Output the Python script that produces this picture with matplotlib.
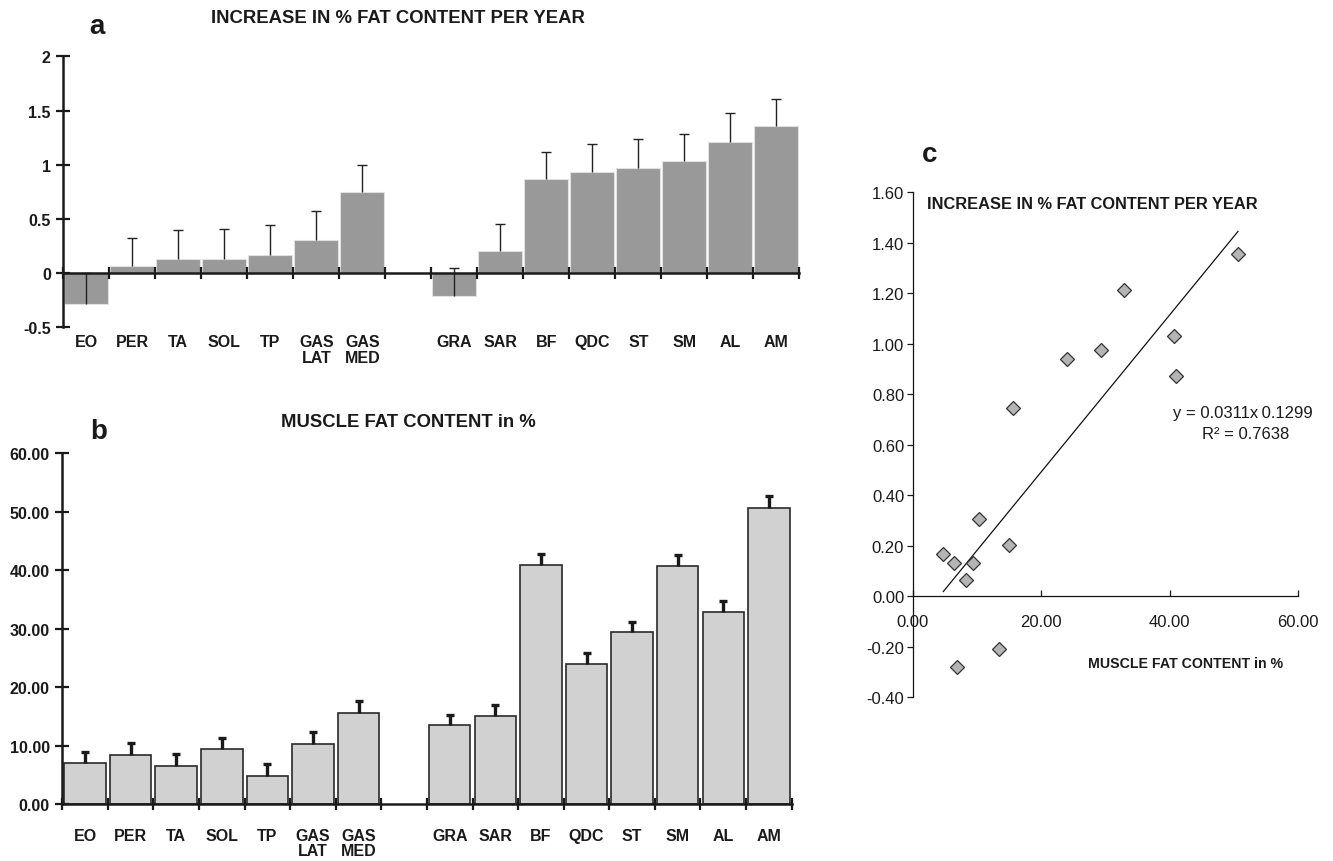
import numpy as np
import matplotlib
matplotlib.use('Agg')
import matplotlib.pyplot as plt

plt.rcParams['font.family'] = ['Liberation Sans', 'DejaVu Sans']
plt.rcParams['text.color'] = '#1a1a1a'
plt.rcParams['xtick.color'] = '#1a1a1a'
plt.rcParams['ytick.color'] = '#1a1a1a'

# lower leg muscles first, then one empty slot, then thigh muscles
muscles = ['EO', 'PER', 'TA', 'SOL', 'TP', 'GAS\nLAT', 'GAS\nMED',
           'GRA', 'SAR', 'BF', 'QDC', 'ST', 'SM', 'AL', 'AM']
n_lower = 7

# a: increase in % fat content per year (bar value, upper error)
fat_increase = [-0.28, 0.065, 0.132, 0.132, 0.166, 0.305, 0.745,
                -0.209, 0.203, 0.871, 0.938, 0.975, 1.031, 1.215, 1.354]
fat_increase_err = [0.28, 0.261, 0.262, 0.274, 0.277, 0.273, 0.258,
                    0.258, 0.249, 0.249, 0.25, 0.259, 0.249, 0.262, 0.258]

# b: muscle fat content in %
fat_content = [6.96, 8.39, 6.5, 9.47, 4.79, 10.33, 15.57,
               13.52, 15.0, 40.96, 24.0, 29.4, 40.7, 32.9, 50.65]
fat_content_err = [2.0, 2.05, 2.11, 1.82, 2.11, 1.99, 2.06,
                   1.77, 2.0, 1.84, 1.9, 1.7, 1.9, 1.8, 2.05]

# c: regression of a against b
trend_slope = 0.0311
trend_intercept = -0.1299
r_squared = 0.7638

a_ticks = [-0.5, 0, 0.5, 1, 1.5, 2]
a_ticklabels = ['-0.5', '0', '0.5', '1', '1.5', '2']
b_ticks = [0, 10, 20, 30, 40, 50, 60]
c_yticks = [-0.4, -0.2, 0, 0.2, 0.4, 0.6, 0.8, 1.0, 1.2, 1.4, 1.6]
c_xticks = [0, 20, 40, 60]

n = len(muscles)
pos = np.r_[np.arange(n_lower), np.arange(n_lower + 1, n + 1)]
slot_edges = np.arange(-0.5, n + 1, 1)
no_err = np.zeros(n)

fig = plt.figure(figsize=(13.33, 8.62), dpi=100)


def setup_bar_axes(ax, label_pad):
    ax.set_xlim(-0.5, n + 0.5)
    for s in ['top', 'right']:
        ax.spines[s].set_visible(False)
    for s in ['left', 'bottom']:
        ax.spines[s].set_linewidth(1.8)
        ax.spines[s].set_color('#1a1a1a')
    ax.set_xticks(slot_edges)
    ax.set_xticklabels([])
    ax.set_xticks(pos, minor=True)
    ax.set_xticklabels(muscles, minor=True, fontsize=11.5, fontweight='bold',
                       linespacing=1.05)
    ax.tick_params(axis='x', which='major', direction='inout', length=9, width=1.6)
    ax.tick_params(axis='x', which='minor', length=0, pad=label_pad)
    ax.tick_params(axis='y', direction='inout', length=10, width=1.6, pad=4,
                   labelsize=11.5)
    for lab in ax.get_yticklabels():
        lab.set_fontweight('bold')


def upper_error(ax, values, errs, **kw):
    # one-sided error bars: hide the cap that sits on the bar end
    eb = ax.errorbar(pos, values, yerr=[no_err, errs], fmt='none', **kw)
    eb[1][0].set_visible(False)


# ---- panel a ----
ax_a = fig.add_axes([0.0475, 0.6191, 0.5521, 0.3142])
ax_a.bar(pos, fat_increase, width=0.95, color='#999999',
         edgecolor='#e0e0e0', linewidth=0.8)
upper_error(ax_a, fat_increase, fat_increase_err, ecolor='#222222',
            elinewidth=1.0, capsize=3.5, capthick=1.0)
ax_a.set_ylim(-0.5, 2)
ax_a.spines['bottom'].set_position(('data', 0))
ax_a.set_yticks(a_ticks)
ax_a.set_yticklabels(a_ticklabels)
setup_bar_axes(ax_a, 44)

fig.text(0.0728, 0.969, 'a', fontsize=20, fontweight='bold', ha='center', va='center')
fig.text(0.2986, 0.978, 'INCREASE IN % FAT CONTENT PER YEAR', fontsize=13.3,
         fontweight='bold', ha='center', va='center')

# ---- panel b ----
ax_b = fig.add_axes([0.0467, 0.0661, 0.5472, 0.4068])
ax_b.bar(pos, fat_content, width=0.91, color='#d0d1d0',
         edgecolor='#2a2a2a', linewidth=1.2)
upper_error(ax_b, fat_content, fat_content_err, ecolor='#1a1a1a',
            elinewidth=2.4, capsize=3, capthick=2.4)
ax_b.set_ylim(0, 60)
ax_b.set_yticks(b_ticks)
ax_b.set_yticklabels(['%.2f' % t for t in b_ticks])
setup_bar_axes(ax_b, 17)

fig.text(0.0743, 0.499, 'b', fontsize=20, fontweight='bold', ha='center', va='center')
fig.text(0.3061, 0.5104, 'MUSCLE FAT CONTENT in %', fontsize=13.3,
         fontweight='bold', ha='center', va='center')

# ---- panel c ----
ax_c = fig.add_axes([0.6846, 0.1899, 0.2892, 0.5858])
ax_c.plot(fat_content, fat_increase, linestyle='none', marker='D', markersize=6.8,
          markerfacecolor='#b4b4b4', markeredgecolor='#333333',
          markeredgewidth=0.9, zorder=3)
xs = np.array([min(fat_content), max(fat_content)])
ax_c.plot(xs, trend_slope * xs + trend_intercept, color='#111111', linewidth=0.9)
ax_c.set_xlim(0, 60)
ax_c.set_ylim(-0.4, 1.6)
for s in ['top', 'right']:
    ax_c.spines[s].set_visible(False)
ax_c.spines['bottom'].set_position(('data', 0))
for s in ['left', 'bottom']:
    ax_c.spines[s].set_linewidth(0.9)
    ax_c.spines[s].set_color('#111111')
ax_c.set_yticks(c_yticks)
ax_c.set_yticklabels(['%.2f' % t for t in c_yticks])
ax_c.set_xticks(c_xticks)
ax_c.set_xticklabels(['%.2f' % t for t in c_xticks])
ax_c.tick_params(axis='y', direction='out', length=4, width=0.9, pad=2, labelsize=12)
ax_c.tick_params(axis='x', direction='in', length=4, width=0.9, pad=13, labelsize=12)

fig.text(0.6977, 0.820, 'c', fontsize=20, fontweight='bold', ha='center', va='center')
fig.text(0.6954, 0.7622, 'INCREASE IN % FAT CONTENT PER YEAR', fontsize=11.75,
         fontweight='bold', ha='left', va='center')
fig.text(0.8894, 0.2297, 'MUSCLE FAT CONTENT in %', fontsize=10.2,
         fontweight='bold', ha='center', va='center')
fig.text(0.9325, 0.5205, 'y = 0.0311x\u20090.1299', fontsize=12,
         ha='center', va='center')
fig.text(0.9347, 0.4965, 'R\u00b2 = %.4f' % r_squared, fontsize=12,
         ha='center', va='center')

fig.savefig('out.png', dpi=100)
